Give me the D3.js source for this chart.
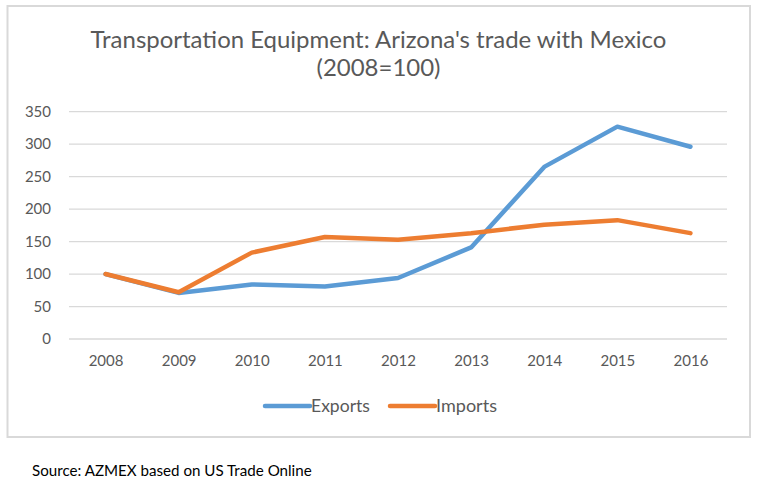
<!DOCTYPE html>
<html>
<head>
<meta charset="utf-8">
<script src="https://cdn.jsdelivr.net/npm/d3@7"></script>
<style>
  html, body { margin: 0; padding: 0; background: #fff; }
  svg { display: block; }
  text { font-family: Lato, "Open Sans", sans-serif; }
</style>
</head>
<body>
<svg id="chart" width="760" height="492"></svg>
<script>
const years = ["2008", "2009", "2010", "2011", "2012", "2013", "2014", "2015", "2016"];
const exportsValues = [100, 71, 84, 81, 94, 141, 265, 327, 296];
const importsValues = [100, 72, 133, 157, 153, 163, 176, 183, 163];
const yTicks = [0, 50, 100, 150, 200, 250, 300, 350];
const seriesNames = ["Exports", "Imports"];
const titleLines = ["Transportation Equipment: Arizona's trade with Mexico", "(2008=100)"];
const sourceText = "Source: AZMEX based on US Trade Online";

const colors = { Exports: "#5b9bd5", Imports: "#ed7d31" };
const textColor = "#595959";

const svg = d3.select("#chart");

// chart border
svg.append("rect")
  .attr("x", 7.5).attr("y", 6).attr("width", 742.5).attr("height", 431)
  .attr("fill", "#fff").attr("stroke", "#d9d9d9").attr("stroke-width", 2);

const plot = { left: 69, right: 727, top: 111.7, bottom: 339 };

const x = d3.scalePoint().domain(years).range([plot.left, plot.right]).padding(0.5);
const y = d3.scaleLinear().domain([0, 350]).range([plot.bottom, plot.top]);

// gridlines
svg.append("g").selectAll("line").data(yTicks).join("line")
  .attr("x1", plot.left).attr("x2", plot.right)
  .attr("y1", d => y(d)).attr("y2", d => y(d))
  .attr("stroke", "#d9d9d9").attr("stroke-width", 1.3);

// y axis
const yAxis = svg.append("g")
  .attr("transform", `translate(${plot.left},0)`)
  .call(d3.axisLeft(y).tickValues(yTicks).tickSize(0).tickPadding(18));
yAxis.select(".domain").remove();
yAxis.selectAll("text")
  .attr("fill", textColor).style("font-size", "15px")
  .style("font-family", "Lato, 'Open Sans', sans-serif");

// x axis
const xAxis = svg.append("g")
  .attr("transform", `translate(0,${plot.bottom})`)
  .call(d3.axisBottom(x).tickSize(0).tickPadding(16));
xAxis.select(".domain").remove();
xAxis.selectAll("text")
  .attr("fill", textColor).style("font-size", "15px")
  .style("font-family", "Lato, 'Open Sans', sans-serif");

// lines
const line = d3.line().x((d, i) => x(years[i])).y(d => y(d));
const seriesData = [
  { name: "Exports", values: exportsValues },
  { name: "Imports", values: importsValues }
];
svg.append("g").selectAll("path").data(seriesData).join("path")
  .attr("d", d => line(d.values))
  .attr("fill", "none")
  .attr("stroke", d => colors[d.name])
  .attr("stroke-width", 4.5)
  .attr("stroke-linejoin", "round")
  .attr("stroke-linecap", "round");

// title
function fitWidth(sel, target) {
  const w = sel.node().getComputedTextLength();
  const fs = parseFloat(sel.style("font-size"));
  sel.style("font-size", (fs * target / w) + "px");
}
const t1 = svg.append("text").attr("x", 378.5).attr("y", 48)
  .attr("text-anchor", "middle").attr("fill", textColor)
  .style("font-size", "21px").text(titleLines[0]);
fitWidth(t1, 576);
const t2 = svg.append("text").attr("x", 378.5).attr("y", 76)
  .attr("text-anchor", "middle").attr("fill", textColor)
  .style("font-size", t1.style("font-size")).text(titleLines[1]);

// legend
const legendItems = [
  { name: seriesNames[0], x0: 265, textW: 59 },
  { name: seriesNames[1], x0: 390, textW: 61 }
];
const lg = svg.append("g");
legendItems.forEach(item => {
  lg.append("line")
    .attr("x1", item.x0).attr("x2", item.x0 + 45)
    .attr("y1", 406).attr("y2", 406)
    .attr("stroke", colors[item.name]).attr("stroke-width", 4.5)
    .attr("stroke-linecap", "round");
  const tx = lg.append("text")
    .attr("x", item.x0 + 46).attr("y", 406).attr("dy", "0.35em")
    .attr("fill", textColor).style("font-size", "16px").text(item.name);
  fitWidth(tx, item.textW);
});

// source
const src = svg.append("text").attr("x", 32).attr("y", 471).attr("dy", "0.35em")
  .attr("fill", "#000").style("font-size", "15px").text(sourceText);
fitWidth(src, 280);
</script>
</body>
</html>
